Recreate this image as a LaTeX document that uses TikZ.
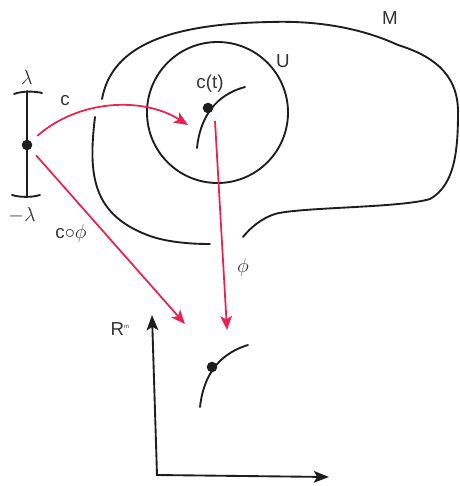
\documentclass[tikz,border=0pt]{standalone}
\usepackage{fontspec}
\setmainfont{Liberation Sans}
\usetikzlibrary{arrows.meta}
\definecolor{Ink}{HTML}{1E1E1E}
\definecolor{Label}{HTML}{333333}
\definecolor{MapRed}{HTML}{E8234F}

\begin{document}
\begin{tikzpicture}[x=0.03cm,y=-0.03cm,font=\fontsize{16}{18}\selectfont,every node/.style={text=Label},
  curve/.style={Ink,line width=1.6pt,line cap=round},
  mapping/.style={MapRed,line width=1.5pt,-{Stealth[length=12pt,width=10pt,inset=3pt]}},
  axis/.style={Ink,line width=1.6pt,{Stealth[length=13pt,width=10pt,inset=3pt]}-{Stealth[length=13pt,width=10pt,inset=3pt]}},
  dotnode/.style={circle,fill=Ink,inner sep=0pt,minimum size=9pt}]
\useasboundingbox[fill=white] (0,0) rectangle (460,486);
% manifold M, open where the maps leave it
\draw[curve] (102,99) .. controls (112,45) and (170,24) .. (270,22) .. controls (330,20) and (372,33) .. (398,45)
  .. controls (430,55) and (458,72) .. (458,112) .. controls (458,150) and (455,185) .. (430,199)
  .. controls (400,208) and (300,207) .. (275,214) .. controls (262,218) and (250,228) .. (243,237);
\draw[curve] (95,117) .. controls (88,175) and (92,215) .. (150,236) .. controls (170,243) and (195,244) .. (210,244);
\node (mlab) at (390,18){M};
% chart domain U
\draw[curve] (217.5,112.5) circle[radius=70.5];
\node (ulab) at (283,61){U};
% interval
\draw[curve] (27,91) -- (27,197);
\draw[curve] (14,94) .. controls (22,91) and (34,91) .. (42,93);
\draw[curve] (12,195) .. controls (20,197.5) and (32,197.5) .. (40,195);
\node[dotnode] (tdot) at (27,145){};
\node (lam) at (27,77){$\lambda$};\node (mlam) at (22,215){$-\lambda$};
% curve in M and its image
\draw[curve] (245,87) .. controls (215,95) and (200,118) .. (197,148);
\node[dotnode] (ctdot) at (208,108){};\node (ctlab) at (210,84){c(t)};
\draw[curve] (248,345) .. controls (215,355) and (203,380) .. (200,407);
\node[dotnode] (imdot) at (212,367){};
% axes of R^m
\coordinate (ytip) at (152,315);\coordinate (orig) at (157,475);\coordinate (xtip) at (329,477);
\draw[axis] (ytip) -- (orig) -- (xtip);
\node (rlab) at (120,329){R\textsuperscript{\tiny m}};
% maps
\coordinate (ctip) at (188,125);\coordinate (cphitip) at (185,324);
\coordinate (phitop) at (215,121);\coordinate (phitip) at (227,330);
\draw[mapping,shorten <=7pt] (tdot) .. controls (78,100) and (142,96) .. (ctip);
\draw[mapping,shorten <=7pt] (tdot) -- (cphitip);
\draw[mapping] (phitop) -- (phitip);
\node (clab) at (65,101){c};\node (cphilab) at (71,233){c$\circ\phi$};\node (philab) at (243,267){$\phi$};
\end{tikzpicture}
\end{document}
